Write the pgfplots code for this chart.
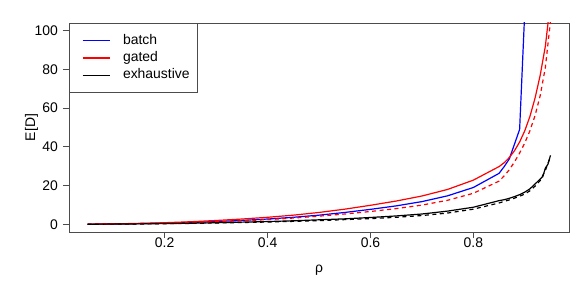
\documentclass[border=0pt]{standalone}
\usepackage{fontspec}
\setmainfont{Liberation Sans}
\usepackage{pgfplots}
\pgfplotsset{compat=1.18}
\usepackage{pgfplotstable}
\definecolor{framegray}{gray}{0.3}

\pgfplotstableread{
x y
0.05 0.05
0.10 0.15
0.15 0.35
0.20 0.6
0.25 0.95
0.30 1.4
0.35 2.0
0.40 2.7
0.45 3.6
0.50 4.7
0.55 6.1
0.60 7.7
0.65 9.5
0.70 11.7
0.75 14.7
0.80 19.0
0.85 26.3
0.86 29.8
0.87 33.8
0.89 49.0
0.90 110
}\batch

\pgfplotstableread{
x y
0.05 0.05
0.10 0.2
0.15 0.45
0.20 0.8
0.25 1.3
0.30 1.95
0.35 2.7
0.40 3.6
0.45 4.7
0.50 6.1
0.55 7.8
0.60 9.8
0.65 12.0
0.70 14.6
0.75 18.0
0.80 22.8
0.85 29.8
0.86 31.8
0.87 34.5
0.88 38.0
0.89 42.5
0.90 48.3
0.91 55.7
0.92 65.2
0.93 77.0
0.94 92.0
0.95 115
}\gatedsim

\pgfplotstableread{
x y
0.05 0.05
0.10 0.15
0.15 0.35
0.20 0.6
0.25 0.9
0.30 1.3
0.35 1.8
0.40 2.4
0.45 3.2
0.50 4.2
0.55 5.3
0.60 6.6
0.65 8.1
0.70 9.9
0.75 12.4
0.80 16.0
0.85 22.3
0.86 25.0
0.87 28.2
0.88 32.2
0.89 36.8
0.90 42.0
0.91 48.3
0.92 56.2
0.93 66.5
0.94 81.0
0.95 105
}\gatedth

\pgfplotstableread{
x y
0.05 0.03
0.10 0.1
0.15 0.2
0.20 0.35
0.25 0.55
0.30 0.8
0.35 1.1
0.40 1.4
0.45 1.8
0.50 2.3
0.55 2.8
0.60 3.5
0.65 4.3
0.70 5.3
0.75 6.8
0.80 8.8
0.85 12.2
0.86 12.7
0.87 13.4
0.88 14.3
0.89 15.3
0.90 16.6
0.91 18.3
0.92 20.8
0.93 23.4
0.935 24.6
0.94 29.0
0.945 31.0
0.95 35.6
}\exhsim

\pgfplotstableread{
x y
0.05 0.02
0.10 0.08
0.15 0.15
0.20 0.3
0.25 0.45
0.30 0.65
0.35 0.9
0.40 1.15
0.45 1.5
0.50 1.9
0.55 2.4
0.60 2.9
0.65 3.6
0.70 4.5
0.75 5.8
0.80 7.8
0.85 11.0
0.86 11.8
0.87 12.6
0.88 13.5
0.89 14.5
0.90 15.6
0.91 17.3
0.92 19.7
0.93 22.6
0.94 27.8
0.95 35.0
}\exhth

\begin{document}
\begin{tikzpicture}
\begin{axis}[
  scale only axis,
  width=500bp, height=209bp,
  xmin=0.014, xmax=0.986,
  ymin=-4, ymax=104,
  axis line style={framegray, line width=0.8bp},
  tick style={framegray, line width=0.8bp},
  tick align=outside,
  major tick length=6bp,
  xtick pos=bottom, ytick pos=left,
  xtick={0.2,0.4,0.6,0.8},
  xticklabels={0.2,0.4,0.6,0.8},
  ytick={0,20,40,60,80,100},
  yticklabels={0,20,40,60,80,100},
  ticklabel style={font=\fontsize{14}{16}\selectfont},
  xticklabel style={anchor=center, inner sep=0pt, yshift=-5bp},
  yticklabel style={anchor=east, inner sep=0pt, xshift=-5bp},
  xlabel={ρ},
  ylabel={E[D]},
  label style={font=\fontsize{14}{16}\selectfont},
  xlabel style={at={(axis description cs:0.5,-0.1818)}, anchor=center},
  ylabel style={at={(axis description cs:-0.075,0.5)}, anchor=center},
  legend style={at={(0,1)}, anchor=north west, draw=framegray, line width=0.8bp,
    inner xsep=7.7bp, inner ysep=10.8bp, row sep=4.3bp,
    font=\fontsize{14}{16}\selectfont,
    nodes={inner sep=0pt, text height=10bp, text depth=3bp}},
  legend cell align=left,
  legend image code/.code={\path (0bp,0bp) (44.7bp,0bp); \draw[#1] (5bp,0bp) -- (32bp,0bp);},
]
\addplot[blue, line width=1.2bp] table[x=x,y=y] {\batch};
\addlegendentry{batch}
\addplot[red, line width=1.2bp] table[x=x,y=y] {\gatedsim};
\addlegendentry{gated}
\addplot[black, line width=1.2bp] table[x=x,y=y] {\exhsim};
\addlegendentry{exhaustive}
\addplot[red, line width=1.2bp, dash pattern=on 4bp off 3.5bp] table[x=x,y=y] {\gatedth};
\addplot[black, line width=1.2bp, dash pattern=on 4bp off 3.5bp] table[x=x,y=y] {\exhth};
\end{axis}
\pgfresetboundingbox
\path[use as bounding box] ([xshift=-69bp,yshift=-59bp]current axis.south west) rectangle ([xshift=12bp,yshift=23bp]current axis.north east);
\end{tikzpicture}
\end{document}
